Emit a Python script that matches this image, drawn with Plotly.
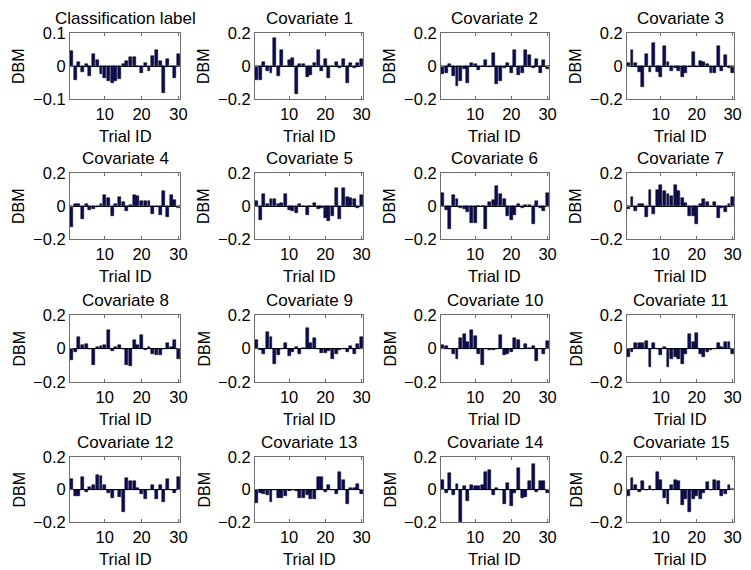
import plotly.graph_objects as go

trial_ids = list(range(1, 31))
titles = ["Classification label"] + [f"Covariate {k}" for k in range(1, 16)]

classification_label = [0.045, -0.043, 0.012, -0.017, 0.005, -0.03, 0.035, 0.018, -0.025, -0.035,
                        -0.045, -0.05, -0.045, -0.04, 0.005, 0.015, 0.027, 0.026, 0.0, -0.022,
                        0.01, -0.015, 0.03, 0.048, 0.015, -0.082, 0.02, 0.0, -0.037, 0.035]
covariate_1 = [-0.085, -0.085, 0.025, -0.03, -0.04, 0.17, -0.06, 0.1, 0.0, 0.035,
               0.05, -0.17, 0.01, 0.015, -0.065, -0.055, 0.02, 0.1, -0.03, 0.045,
               -0.07, 0.0, 0.025, -0.015, 0.045, -0.1, 0.02, -0.01, 0.02, 0.045]
covariate_2 = [-0.05, -0.045, 0.01, -0.06, -0.12, -0.09, -0.02, -0.1, 0.02, 0.015,
               -0.025, 0.0, 0.035, -0.005, 0.08, -0.11, -0.09, -0.01, 0.02, -0.04,
               0.1, -0.055, -0.04, 0.1, 0.065, -0.01, 0.045, -0.045, 0.035, -0.02]
covariate_3 = [0.02, 0.1, 0.02, -0.035, -0.125, 0.07, -0.035, 0.14, -0.035, -0.065,
               0.12, 0.025, -0.03, -0.01, -0.03, -0.065, -0.04, -0.005, 0.085, -0.005,
               0.03, 0.025, 0.01, -0.04, -0.04, 0.12, -0.03, 0.065, -0.01, -0.045]
covariate_4 = [-0.13, 0.01, 0.015, -0.08, 0.012, -0.025, -0.02, -0.005, 0.01, 0.065,
               0.05, -0.06, 0.01, 0.055, 0.025, -0.03, 0.005, 0.065, 0.06, 0.03,
               0.03, 0.03, -0.05, -0.005, -0.055, 0.09, -0.065, 0.065, 0.035, -0.01]
covariate_5 = [0.03, -0.085, 0.075, 0.015, 0.04, 0.04, 0.015, 0.02, 0.07, -0.025,
               -0.03, -0.045, 0.01, 0.0, -0.055, 0.0, 0.02, -0.02, -0.015, -0.07,
               -0.09, -0.06, 0.11, -0.08, 0.11, 0.055, 0.05, 0.04, -0.01, 0.065]
covariate_6 = [0.08, -0.025, -0.14, 0.065, 0.04, -0.01, -0.02, -0.035, -0.1, -0.1,
               0.0, 0.0, -0.14, 0.025, 0.035, 0.12, 0.07, 0.04, -0.06, -0.085,
               -0.055, 0.01, -0.015, 0.005, 0.005, -0.11, 0.03, -0.015, -0.03, 0.08]
covariate_7 = [-0.02, 0.055, -0.03, 0.01, 0.015, -0.065, 0.1, -0.05, 0.1, 0.13,
               0.09, 0.07, 0.06, 0.13, 0.09, 0.05, 0.02, -0.06, -0.06, -0.11,
               0.015, 0.04, 0.025, 0.0, 0.025, -0.07, -0.01, -0.035, 0.01, 0.055]
covariate_8 = [-0.07, -0.02, 0.07, 0.02, 0.025, 0.0, -0.1, 0.01, 0.015, 0.02,
               0.11, -0.015, 0.01, 0.02, 0.0, -0.1, -0.105, 0.05, 0.02, 0.08,
               -0.01, 0.01, -0.03, -0.04, -0.04, 0.0, 0.03, 0.01, 0.05, -0.065]
covariate_9 = [0.05, -0.01, -0.035, 0.1, 0.07, -0.095, -0.04, 0.0, 0.035, -0.045,
               -0.02, 0.01, -0.035, 0.005, 0.12, 0.035, 0.06, 0.0, -0.025, -0.025,
               -0.015, -0.065, -0.03, -0.01, -0.005, -0.02, 0.015, -0.03, 0.025, 0.07]
covariate_10 = [0.02, 0.015, 0.0, -0.03, -0.06, 0.065, 0.085, 0.04, 0.11, 0.075,
                -0.03, -0.1, 0.0, -0.01, -0.01, 0.0, 0.08, -0.04, -0.035, -0.02,
                0.065, 0.05, 0.0, 0.025, 0.005, 0.015, -0.075, 0.0, -0.03, 0.045]
covariate_11 = [-0.05, -0.02, 0.03, 0.03, 0.035, 0.045, -0.11, 0.03, 0.0, -0.04,
                0.01, -0.11, -0.065, -0.05, -0.065, -0.09, -0.03, 0.085, 0.04, 0.09,
                -0.03, -0.05, -0.02, -0.01, 0.0, 0.03, 0.01, 0.04, 0.04, -0.035]
covariate_12 = [0.065, -0.04, -0.04, 0.08, -0.015, 0.015, 0.03, 0.09, 0.085, 0.03,
                -0.02, -0.055, 0.0, -0.045, -0.14, 0.07, 0.05, 0.05, 0.01, -0.03,
                -0.06, 0.0, 0.025, -0.06, 0.025, -0.075, 0.065, 0.0, -0.02, 0.08]
covariate_13 = [-0.085, -0.02, -0.025, -0.035, -0.075, 0.0, -0.05, -0.05, -0.04, -0.01,
                -0.005, -0.01, -0.055, -0.05, -0.035, -0.06, -0.06, 0.08, 0.075, -0.015,
                0.03, -0.005, -0.03, 0.11, 0.06, -0.09, 0.01, 0.01, 0.035, -0.03]
covariate_14 = [0.06, -0.02, 0.1, -0.035, 0.035, -0.2, 0.02, -0.07, 0.025, 0.02,
                0.02, 0.03, 0.11, 0.12, -0.035, 0.01, 0.0, -0.09, 0.04, -0.1,
                -0.02, 0.13, -0.055, -0.045, 0.05, 0.16, -0.015, 0.05, 0.055, -0.02]
covariate_15 = [-0.04, 0.07, 0.03, -0.015, 0.055, 0.0, 0.02, 0.0, 0.11, 0.06,
                -0.05, -0.09, 0.025, 0.06, 0.055, -0.095, -0.06, -0.14, -0.06, -0.04,
                -0.06, -0.02, 0.045, 0.0, 0.06, 0.055, -0.04, -0.025, 0.025, 0.005]

series = [classification_label, covariate_1, covariate_2, covariate_3,
          covariate_4, covariate_5, covariate_6, covariate_7,
          covariate_8, covariate_9, covariate_10, covariate_11,
          covariate_12, covariate_13, covariate_14, covariate_15]
y_limits = [0.1] + [0.2] * 15
x_ticks = [10, 20, 30]

W, H = 751, 570
OFF = 8  # the page places the figure 8 px in from the top-left corner
col_px = [(70, 180), (255, 363), (441, 549), (627, 734)]
row_px = [(33, 99), (173, 239), (315, 382), (457, 522)]
FONT = "Liberation Sans, Arial, Helvetica, sans-serif"
BAR_COLOR = "#0b0b58"
AXIS_COLOR = "#6e6e6e"

fig = go.Figure()
layout = {}
annotations = []
for k in range(16):
    r, c = divmod(k, 4)
    sfx = "" if k == 0 else str(k + 1)
    fig.add_trace(go.Bar(
        x=trial_ids, y=series[k], xaxis="x" + sfx, yaxis="y" + sfx,
        width=0.8, marker=dict(color=BAR_COLOR, line=dict(color="#000000", width=0.5)),
        showlegend=False, hoverinfo="skip"))
    x0, x1 = (v - OFF for v in col_px[c])
    y0, y1 = (v - OFF for v in row_px[r])
    lim = y_limits[k]
    lab = f"{lim:.1f}"
    layout["xaxis" + sfx] = dict(
        domain=[x0 / W, x1 / W], range=[0.6, 30.4], anchor="y" + sfx,
        tickvals=x_ticks, ticks="inside", ticklen=3, tickcolor=AXIS_COLOR,
        mirror="ticks", showline=True, linecolor=AXIS_COLOR, linewidth=1,
        showgrid=False, zeroline=False, fixedrange=True, automargin=False,
        tickfont=dict(family=FONT, size=16.5, color="black"))
    layout["yaxis" + sfx] = dict(
        domain=[1 - y1 / H, 1 - y0 / H], range=[-lim, lim], anchor="x" + sfx,
        tickvals=[-lim, 0, lim], ticktext=["\u2212" + lab, "0", lab],
        ticks="inside", ticklen=3, tickcolor=AXIS_COLOR,
        mirror="ticks", showline=True, linecolor=AXIS_COLOR, linewidth=1,
        showgrid=False, zeroline=True, zerolinecolor="#000", zerolinewidth=1,
        fixedrange=True, automargin=False,
        tickfont=dict(family=FONT, size=16.5, color="black"))
    xc = (x0 + x1) / 2 / W
    annotations.append(dict(text=titles[k], xref="paper", yref="paper", x=xc, y=1 - y0 / H,
                            xanchor="center", yanchor="bottom", yshift=4, borderpad=0,
                            showarrow=False, font=dict(family=FONT, size=17, color="black")))
    annotations.append(dict(text="Trial ID", xref="paper", yref="paper", x=xc, y=1 - y1 / H,
                            xanchor="center", yanchor="top", yshift=-26, showarrow=False,
                            font=dict(family=FONT, size=16.5, color="black")))
    annotations.append(dict(text="DBM", xref="paper", yref="paper", x=x0 / W, y=1 - (y0 + y1) / 2 / H,
                            xanchor="center", yanchor="middle", xshift=-51, textangle=-90,
                            borderpad=0, showarrow=False,
                            font=dict(family=FONT, size=16, color="black")))

fig.update_layout(**layout)
fig.update_layout(template="none", width=W, height=H, margin=dict(l=0, r=0, t=0, b=0, pad=0),
                  paper_bgcolor="white", plot_bgcolor="white",
                  annotations=annotations, bargap=0, showlegend=False)
fig.write_html("out.html")
